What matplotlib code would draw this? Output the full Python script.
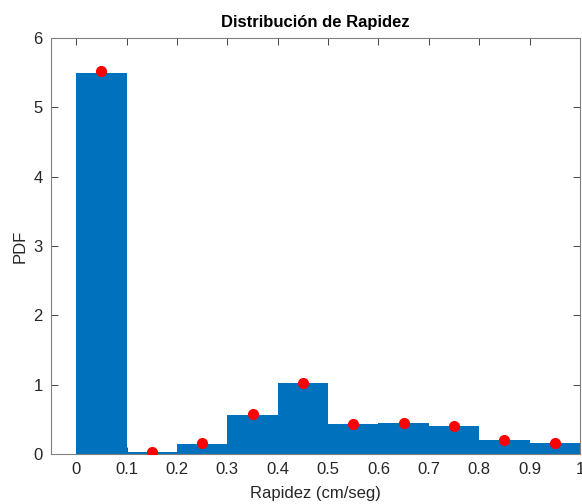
import numpy as np
import matplotlib.pyplot as plt

# Histogram bins (cm/seg) and PDF values
bin_edges = [0.0, 0.1, 0.2, 0.3, 0.4, 0.5, 0.6, 0.7, 0.8, 0.9, 1.0]
bar_pdf = [5.50, 0.03, 0.15, 0.56, 1.02, 0.43, 0.45, 0.40, 0.20, 0.16]
dot_x = [0.05, 0.15, 0.25, 0.35, 0.45, 0.55, 0.65, 0.75, 0.85, 0.95]
dot_pdf = [5.52, 0.03, 0.16, 0.57, 1.03, 0.43, 0.45, 0.40, 0.20, 0.16]

x_ticks = [0, 0.1, 0.2, 0.3, 0.4, 0.5, 0.6, 0.7, 0.8, 0.9, 1]
x_labels = ['0', '0.1', '0.2', '0.3', '0.4', '0.5', '0.6', '0.7', '0.8', '0.9', '1']
y_ticks = [0, 1, 2, 3, 4, 5, 6]

BAR_COLOR = '#0072BD'
AX_COLOR = '#262626'

plt.rcParams.update({
    'font.family': ['Liberation Sans', 'DejaVu Sans'],
    'font.size': 12,
})

fig = plt.figure(figsize=(5.82, 5.04), dpi=100)
ax = fig.add_axes([51 / 582, 1 - 454 / 504, 529 / 582, 416 / 504])

widths = np.diff(bin_edges)
ax.bar(bin_edges[:-1], bar_pdf, width=widths, align='edge',
       color=BAR_COLOR, edgecolor='none', zorder=2)
ax.plot(dot_x, dot_pdf, 'o', color='red', markersize=7, zorder=3)

ax.set_xlim(-0.05, 1.0)
ax.set_ylim(0, 6)
ax.set_xticks(x_ticks)
ax.set_xticklabels(x_labels)
ax.set_yticks(y_ticks)

ax.tick_params(direction='in', top=True, right=True, length=5,
               width=0.6, colors=AX_COLOR, labelsize=12, pad=6)
for sp in ax.spines.values():
    sp.set_color('#808080')
    sp.set_linewidth(0.8)

ax.set_xlabel('Rapidez (cm/seg)', color=AX_COLOR, fontsize=12, labelpad=6)
ax.set_ylabel('PDF', color=AX_COLOR, fontsize=12, labelpad=4)
ax.set_title('Distribución de Rapidez', fontweight='bold', fontsize=12,
             color='black', pad=8)

fig.savefig('out.png', dpi=100)
